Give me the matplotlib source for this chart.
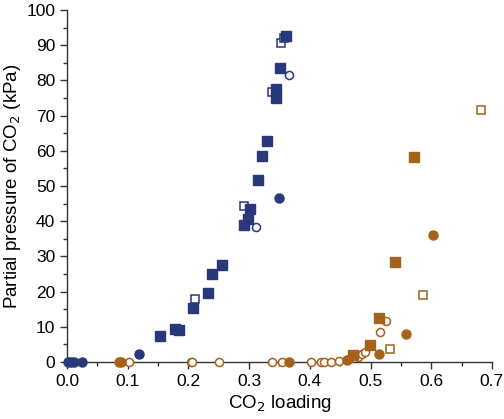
import matplotlib.pyplot as plt
from matplotlib.ticker import MultipleLocator

plt.rcParams['font.family'] = ['Liberation Sans', 'DejaVu Sans']

blue = '#283878'
orange = '#a6621a'

# blue series
bsq_fill_x = [0.153, 0.178, 0.185, 0.208, 0.232, 0.239, 0.255, 0.292, 0.298, 0.301,
              0.315, 0.321, 0.329, 0.344, 0.344, 0.351, 0.361]
bsq_fill_y = [7.4, 9.4, 9.1, 15.3, 19.6, 25.0, 27.6, 38.9, 40.6, 43.5,
              51.7, 58.5, 62.8, 75.0, 77.6, 83.5, 92.6]
bsq_open_x = [0.211, 0.292, 0.338, 0.353, 0.357]
bsq_open_y = [17.9, 44.3, 76.7, 90.6, 92.0]
bci_open_x = [0.311, 0.366]
bci_open_y = [38.4, 81.5]
bci_fill_x = [0.002, 0.006, 0.011, 0.024, 0.119, 0.349]
bci_fill_y = [0.0, 0.0, 0.0, 0.0, 2.2, 46.6]

# orange series
oci_fill_x = [0.086, 0.089, 0.366, 0.461, 0.514, 0.558, 0.603]
oci_fill_y = [0.0, 0.0, 0.0, 0.5, 2.3, 8.0, 36.1]
osq_fill_x = [0.471, 0.499, 0.514, 0.540, 0.572]
osq_fill_y = [2.0, 4.9, 12.6, 28.4, 58.2]
osq_open_x = [0.532, 0.586, 0.682]
osq_open_y = [3.7, 19.0, 71.6]
oci_open_x = [0.102, 0.204, 0.206, 0.250, 0.338, 0.354, 0.402, 0.418, 0.423, 0.435,
              0.448, 0.465, 0.479, 0.486, 0.491, 0.516, 0.526]
oci_open_y = [0.0, 0.0, 0.0, 0.0, 0.0, 0.0, 0.0, 0.0, 0.0, 0.0,
              0.4, 0.9, 1.5, 2.2, 2.8, 8.5, 11.6]

fig = plt.figure(figsize=(5.04, 4.19), dpi=100)
ax = fig.add_axes([0.133, 0.136, 0.843, 0.84])

kw = dict(linestyle='none', clip_on=False, zorder=3)
fill = dict(markersize=6.5, **kw)
hollow = dict(markersize=5.8, mfc='white', mew=1.1, **kw)
ax.plot(oci_open_x, oci_open_y, 'o', mec=orange, **hollow)
ax.plot(oci_fill_x, oci_fill_y, 'o', color=orange, **fill)
ax.plot(osq_fill_x, osq_fill_y, 's', color=orange, **fill)
ax.plot(osq_open_x, osq_open_y, 's', mec=orange, **hollow)
ax.plot(bsq_open_x, bsq_open_y, 's', mec=blue, **hollow)
ax.plot(bsq_fill_x, bsq_fill_y, 's', color=blue, **fill)
ax.plot(bci_open_x, bci_open_y, 'o', mec=blue, **hollow)
ax.plot(bci_fill_x, bci_fill_y, 'o', color=blue, **fill)

ax.set_xlim(0, 0.7)
ax.set_ylim(0, 100)
ax.xaxis.set_major_locator(MultipleLocator(0.1))
ax.xaxis.set_minor_locator(MultipleLocator(0.05))
ax.yaxis.set_major_locator(MultipleLocator(10))
ax.yaxis.set_minor_locator(MultipleLocator(5))
ax.xaxis.set_major_formatter(plt.FuncFormatter(lambda v, p: f'{v:.1f}'))
ax.spines['top'].set_visible(False)
ax.spines['right'].set_visible(False)
for s in ('left', 'bottom'):
    ax.spines[s].set_linewidth(1.0)
    ax.spines[s].set_color('#333333')
ax.tick_params(which='major', direction='out', length=5, width=1, labelsize=12.5, colors='#333333', labelcolor='black')
ax.tick_params(which='minor', direction='out', length=3, width=1, colors='#333333')

ax.set_xlabel('CO$_2$ loading', fontsize=13.5, labelpad=3)
ax.set_ylabel('Partial pressure of CO$_2$ (kPa)', fontsize=13.5, labelpad=2)

fig.savefig('out.png', dpi=100)
